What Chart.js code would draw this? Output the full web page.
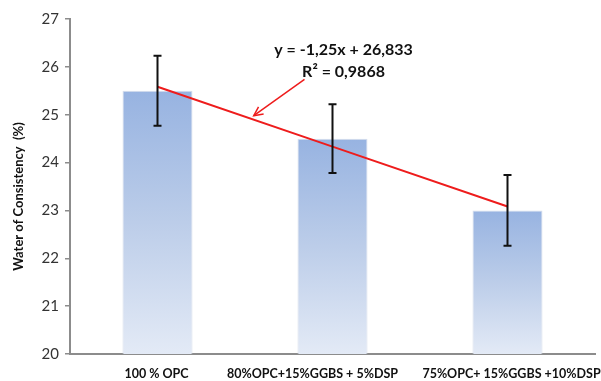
<!DOCTYPE html>
<html><head><meta charset="utf-8">
<script src="https://cdn.jsdelivr.net/npm/chart.js@4"></script>
<style>html,body{margin:0;padding:0;background:#fff}#wrap{width:601px;height:381px}</style>
</head><body><div id="wrap"><canvas id="c" width="601" height="381"></canvas></div>
<script>
const categories = ['100 % OPC', '80%OPC+15%GGBS + 5%DSP', '75%OPC+ 15%GGBS +10%DSP'];
const values = [25.5, 24.5, 23.0];
const errors = [0.73, 0.72, 0.74];
const trend = [25.583, 24.333, 23.083];
const yTicks = [20, 21, 22, 23, 24, 25, 26, 27];
const equationText = ['y = -1,25x + 26,833', 'R² = 0,9868'];
const yTitle = 'Water of Consistency  (%)';

// label placement tweaks (pixels relative to category centre)
const labelShift = [-1, -20, 4];

const FONT = 'Lato, "Open Sans", sans-serif';

const extrasPlugin = {
  id: 'extras',
  afterDatasetsDraw(chart) {
    const {ctx, scales: {x, y}, chartArea} = chart;
    ctx.save();
    ctx.strokeStyle = '#111';
    ctx.lineWidth = 2;
    values.forEach((v, i) => {
      const px = x.getPixelForValue(i);
      const top = y.getPixelForValue(v + errors[i]);
      const bot = y.getPixelForValue(v - errors[i]);
      ctx.beginPath();
      ctx.moveTo(px, top); ctx.lineTo(px, bot);
      ctx.moveTo(px - 4, top); ctx.lineTo(px + 4, top);
      ctx.moveTo(px - 4, bot); ctx.lineTo(px + 4, bot);
      ctx.stroke();
    });
    // trend annotation
    ctx.fillStyle = '#111';
    ctx.font = 'bold 16px ' + FONT;
    ctx.textAlign = 'center';
    ctx.textBaseline = 'middle';
    ctx.fillText(equationText[0], x.getPixelForValue(1.063), y.getPixelForValue(26.35));
    ctx.fillText(equationText[1], x.getPixelForValue(1.063), y.getPixelForValue(25.9));
    // arrow
    const ax1 = x.getPixelForValue(0.84), ay1 = y.getPixelForValue(25.74);
    const ax2 = x.getPixelForValue(0.55), ay2 = y.getPixelForValue(24.98);
    ctx.strokeStyle = '#ee1c1c';
    ctx.lineWidth = 1.5;
    ctx.beginPath(); ctx.moveTo(ax1, ay1); ctx.lineTo(ax2, ay2); ctx.stroke();
    const ang = Math.atan2(ay2 - ay1, ax2 - ax1);
    ctx.beginPath();
    ctx.moveTo(ax2 - 10 * Math.cos(ang - 0.45), ay2 - 10 * Math.sin(ang - 0.45));
    ctx.lineTo(ax2, ay2);
    ctx.lineTo(ax2 - 10 * Math.cos(ang + 0.45), ay2 - 10 * Math.sin(ang + 0.45));
    ctx.stroke();
    // x labels
    ctx.fillStyle = '#111';
    ctx.font = 'bold 12.5px ' + FONT;
    categories.forEach((c, i) => {
      ctx.fillText(c, x.getPixelForValue(i) + labelShift[i], chartArea.bottom + 20);
    });
    // y title
    ctx.translate(19, (chartArea.top + chartArea.bottom) / 2 + 10);
    ctx.rotate(-Math.PI / 2);
    ctx.font = 'bold 13px ' + FONT;
    ctx.fillText(yTitle, 0, 0);
    ctx.restore();
  }
};

new Chart(document.getElementById('c'), {
  data: {
    labels: categories,
    datasets: [
      {
        type: 'line',
        data: trend,
        borderColor: '#ee1c1c',
        borderWidth: 2,
        pointRadius: 0,
        fill: false,
        order: 0
      },
      {
        type: 'bar',
        data: values,
        barPercentage: 0.4,
        categoryPercentage: 1,
        borderColor: 'rgba(205,214,230,0.8)',
        borderWidth: 1,
        borderSkipped: 'bottom',
        order: 1,
        backgroundColor: (ctx) => {
          const chart = ctx.chart;
          const ca = chart.chartArea;
          if (!ca || ctx.type !== 'data') return '#a9bfe5';
          const ys = chart.scales.y;
          const top = ys.getPixelForValue(ctx.raw);
          const g = chart.ctx.createLinearGradient(0, top, 0, ca.bottom);
          g.addColorStop(0, '#97b3e1');
          g.addColorStop(0.5, '#bccde9');
          g.addColorStop(1, '#e3eaf6');
          return g;
        }
      }
    ]
  },
  options: {
    responsive: false,
    animation: false,
    layout: {padding: {left: 0, right: 6, top: 19, bottom: 0}},
    plugins: {legend: {display: false}, tooltip: {enabled: false}},
    scales: {
      x: {
        offset: true,
        grid: {display: false, drawTicks: false},
        border: {color: '#8c8c8c', width: 2},
        ticks: {display: false},
        afterFit: (s) => { s.height = 27; }
      },
      y: {
        min: 20, max: 27,
        afterBuildTicks: (s) => { s.ticks = yTicks.map(v => ({value: v})); },
        grid: {display: true, drawOnChartArea: false, drawTicks: true, tickLength: 5, color: '#8c8c8c', lineWidth: 1.5},
        border: {color: '#8c8c8c', width: 2},
        ticks: {color: '#333', font: {family: FONT, size: 15}, padding: 6},
        afterFit: (s) => { s.width = 70; }
      }
    }
  },
  plugins: [extrasPlugin]
});
</script>
</body></html>
